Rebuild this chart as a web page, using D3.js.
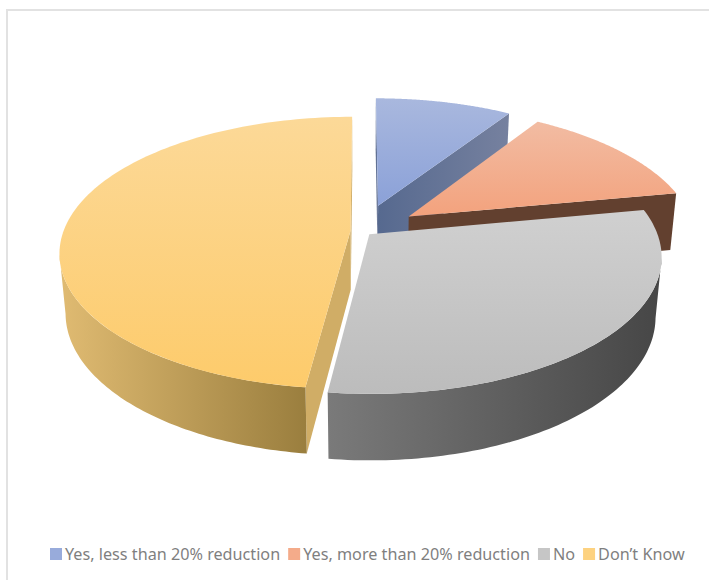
<!DOCTYPE html>
<html><head><meta charset="utf-8">
<script src="https://cdnjs.cloudflare.com/ajax/libs/d3/7.8.5/d3.min.js"></script>
<style>html,body{margin:0;padding:0;background:#fff}svg{display:block}</style>
</head><body><svg id="c" width="709" height="580"></svg>
<script>
const categories = ["Yes, less than 20% reduction","Yes, more than 20% reduction","No","Don\u2019t Know"];
const values = [9.1,12.9,30,48];
const explode = [0.205,0.2,0.035,0.04];
const topColors = [["#a9b8de","#8ba1d8"],["#f2bca3","#f3a27d"],["#d0d0d0","#bcbcbc"],["#fcd998","#fdcb6b"]];
const wallColors = [["#56698f","#76819f"],["#62402f","#62402f"],["#7a7a7a","#464646"],["#e0bb72","#9a7e3e"]];
const faceColors = ["#5f7096","#62402f","#5a5a5a","#d0ad66"];
const swatch = ["#98abdb","#f4ab8a","#c6c6c6","#fdd280"];
const drawOrder = [0,1,3,2];

const cx=362, cy=231, R=287, tilt=132.5, persp=0.163, depthPersp=0.02, H=60;
const svg=d3.select("#c");
const defs=svg.append("defs");
svg.append("rect").attr("x",7).attr("y",10).attr("width",720).attr("height",600).attr("fill","#fff").attr("stroke","#e2e2e2").attr("stroke-width",2);

const pie=d3.pie().sort(null).value(d=>d);
const arcs=pie(values);
const xS=d3.scaleLinear().domain([-1,1]).range([-R,R]);
const yS=d3.scaleLinear().domain([-1,1]).range([tilt,-tilt]);
function proj(ax,ay,z){
  const s=1/(1+persp*ay+depthPersp*z);
  return [cx+s*xS(ax), cy+s*(yS(ay)+H*z)];
}
const line=d3.line();
categories.forEach((c,i)=>{
  const t=defs.append("linearGradient").attr("id","t"+i).attr("x1",0).attr("y1",0).attr("x2",0).attr("y2",1);
  t.append("stop").attr("offset",0).attr("stop-color",topColors[i][0]);
  t.append("stop").attr("offset",1).attr("stop-color",topColors[i][1]);
  const w=defs.append("linearGradient").attr("id","w"+i).attr("x1",0).attr("y1",0).attr("x2",1).attr("y2",0);
  w.append("stop").attr("offset",0).attr("stop-color",wallColors[i][0]);
  w.append("stop").attr("offset",1).attr("stop-color",wallColors[i][1]);
});
function area(p){return d3.polygonArea(p);}
drawOrder.forEach(i=>{
  const a=arcs[i], e=explode[i], mid=(a.startAngle+a.endAngle)/2;
  const ox=e*Math.sin(mid), oy=e*Math.cos(mid);
  const P=(ang,r,z)=>proj(ox+r*Math.sin(ang),oy+r*Math.cos(ang),z);
  const g=svg.append("g");
  // radial faces
  [[a.endAngle,1],[a.startAngle,-1]].forEach(([ang,dir])=>{
    const poly=[P(ang,0,0),P(ang,1,0),P(ang,1,1),P(ang,0,1)];
    if(area(poly)*dir<0){
      g.append("path").attr("d",line(poly)+"Z").attr("fill",i===0?"url(#w0)":faceColors[i]);
    }
  });
  // outer wall: rim between the two silhouette tangents
  const lo=Math.max(a.startAngle,Math.PI*0.555), hi=Math.min(a.endAngle,Math.PI*1.445);
  if(hi>lo){
    const angs=d3.range(0,81).map(k=>lo+(hi-lo)*k/80);
    const poly=angs.map(x=>P(x,1,0)).concat(angs.slice().reverse().map(x=>P(x,1,1)));
    g.append("path").attr("d",line(poly)+"Z").attr("fill","url(#w"+i+")");
  }
  // top
  const angs=d3.range(0,121).map(k=>a.startAngle+(a.endAngle-a.startAngle)*k/120);
  const top=[P(0,0,0)].concat(angs.map(x=>P(x,1,0)));
  g.append("path").attr("d",line(top)+"Z").attr("fill","url(#t"+i+")");
});
// legend
const lg=svg.append("g").attr("font-family","'Noto Sans',sans-serif").attr("font-size",16.2).attr("fill","#7f7f7f");
let lx=50;
categories.forEach((c,i)=>{
  lg.append("rect").attr("x",lx).attr("y",548).attr("width",12).attr("height",12).attr("fill",swatch[i]);
  const t=lg.append("text").attr("x",lx+15).attr("y",560).text(c);
  lx+=15+t.node().getComputedTextLength()+8;
});
</script></body></html>
